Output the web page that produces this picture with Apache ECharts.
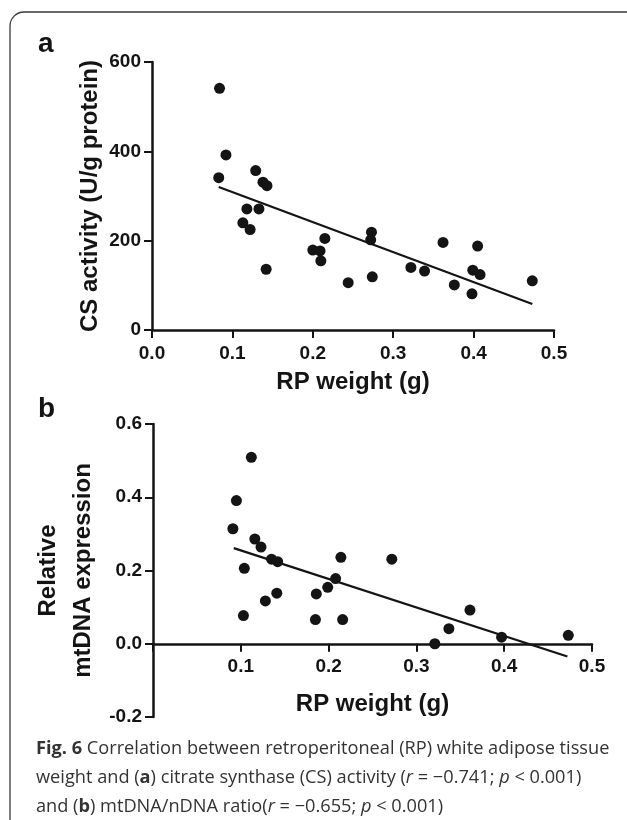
<!DOCTYPE html>
<html>
<head>
<meta charset="utf-8">
<script src="https://cdn.jsdelivr.net/npm/echarts@6/dist/echarts.min.js"></script>
<style>
  html, body { margin: 0; padding: 0; background: #fff; }
  #chart { width: 627px; height: 820px; }
</style>
</head>
<body>
<div id="chart"></div>
<script>
// panel a: RP weight (g) vs CS activity (U/g protein)
const weightA = [0.084, 0.092, 0.083, 0.129, 0.138, 0.143, 0.118, 0.133, 0.113, 0.122,
    0.142, 0.200, 0.209, 0.215, 0.210, 0.244, 0.273, 0.272, 0.274, 0.322,
    0.339, 0.362, 0.376, 0.399, 0.405, 0.408, 0.398, 0.473];
const csActivity = [541, 392, 341, 357, 331, 323, 271, 271, 240, 225,
    136, 179, 177, 205, 155, 106, 219, 202, 119, 140,
    132, 196, 101, 134, 188, 124, 81, 110];
const fitA = [[0.083, 320], [0.473, 58]];

// panel b: RP weight (g) vs relative mtDNA expression
const weightB = [0.112, 0.095, 0.091, 0.116, 0.123, 0.135, 0.142, 0.104, 0.141, 0.128,
    0.103, 0.186, 0.185, 0.199, 0.208, 0.214, 0.216, 0.272, 0.321, 0.337,
    0.361, 0.397, 0.473];
const mtdna = [0.509, 0.391, 0.314, 0.286, 0.264, 0.231, 0.224, 0.206, 0.138, 0.117,
    0.077, 0.136, 0.066, 0.154, 0.178, 0.236, 0.066, 0.231, 0.000, 0.041,
    0.092, 0.018, 0.023];
const fitB = [[0.092, 0.261], [0.472, -0.035]];

const yRangeB = [-0.2, 0.6];

const FONT = '"Liberation Sans", Arial, Helvetica, sans-serif';
const CAPTION_FONT = '"Open Sans", "Noto Sans", sans-serif';
const INK = '#141414';

const pairs = (xs, ys) => xs.map((x, i) => [x, ys[i]]);
const fmt1 = v => (Math.abs(v) < 1e-9 ? 0 : v).toFixed(1);

function axisBase(labelMargin) {
    return {
        nameMoveOverlap: false,
        axisLine: { show: true, onZero: false, lineStyle: { color: INK, width: 2.5 } },
        axisTick: { show: true, length: 8, lineStyle: { color: INK, width: 2 } },
        axisLabel: { color: INK, fontFamily: FONT, fontWeight: 'bold', fontSize: 19, margin: labelMargin },
        splitLine: { show: false },
        nameTextStyle: { color: INK, fontFamily: FONT, fontWeight: 'bold', fontSize: 24 }
    };
}

const gridB = { left: 153, top: 424, width: 439, height: 293 };
// lift panel b's x axis up to y = 0
const zeroOffsetB = -(0 - yRangeB[0]) / (yRangeB[1] - yRangeB[0]) * gridB.height;

const myChart = echarts.init(document.getElementById('chart'), null, { renderer: 'canvas' });

myChart.setOption({
    backgroundColor: '#fff',
    animation: false,
    grid: [
        { left: 152, top: 62, width: 402, height: 268 },
        gridB
    ],
    xAxis: [
        Object.assign(axisBase(14), {
            gridIndex: 0, type: 'value', min: 0, max: 0.5, interval: 0.1,
            name: 'RP weight (g)', nameLocation: 'middle', nameGap: 40,
            axisLabel: Object.assign(axisBase(14).axisLabel, { formatter: fmt1 })
        }),
        Object.assign(axisBase(14), {
            gridIndex: 1, type: 'value', min: 0, max: 0.5, interval: 0.1,
            offset: zeroOffsetB,
            name: 'RP weight (g)', nameLocation: 'middle', nameGap: 49,
            axisLabel: Object.assign(axisBase(14).axisLabel, {
                formatter: v => (v === 0 ? '' : fmt1(v))
            })
        })
    ],
    yAxis: [
        Object.assign(axisBase(11), {
            gridIndex: 0, type: 'value', min: 0, max: 600, interval: 200,
            name: 'CS activity (U/g protein)', nameLocation: 'middle', nameGap: 50
        }),
        Object.assign(axisBase(11), {
            gridIndex: 1, type: 'value', min: yRangeB[0], max: yRangeB[1], interval: 0.2,
            name: 'Relative\nmtDNA expression', nameLocation: 'middle', nameGap: 52,
            nameTextStyle: Object.assign(axisBase(11).nameTextStyle, { lineHeight: 35 }),
            axisLabel: Object.assign(axisBase(11).axisLabel, { formatter: fmt1 })
        })
    ],
    series: [
        {
            type: 'line', xAxisIndex: 0, yAxisIndex: 0, data: fitA,
            symbol: 'none', lineStyle: { color: INK, width: 2.2 }, z: 3
        },
        {
            type: 'scatter', xAxisIndex: 0, yAxisIndex: 0, data: pairs(weightA, csActivity),
            symbolSize: 11, itemStyle: { color: INK, opacity: 1 }, z: 4
        },
        {
            type: 'line', xAxisIndex: 1, yAxisIndex: 1, data: fitB,
            symbol: 'none', lineStyle: { color: INK, width: 2.2 }, z: 3
        },
        {
            type: 'scatter', xAxisIndex: 1, yAxisIndex: 1, data: pairs(weightB, mtdna),
            symbolSize: 11, itemStyle: { color: INK, opacity: 1 }, z: 4
        }
    ],
    graphic: [
        {
            type: 'rect', z: 0, silent: true,
            shape: { x: 10, y: 12, width: 720, height: 900, r: 14 },
            style: { fill: 'none', stroke: '#3a3a3a', lineWidth: 1.3 }
        },
        {
            type: 'text', left: 38, top: 30,
            style: { text: 'a', fill: INK, font: 'bold 28px ' + FONT }
        },
        {
            type: 'text', left: 38, top: 395,
            style: { text: 'b', fill: INK, font: 'bold 28px ' + FONT }
        },
        {
            type: 'text', left: 36, top: 734,
            style: {
                text: '{b|Fig. 6} Correlation between retroperitoneal (RP) white adipose tissue\n' +
                    'weight and ({b|a}) citrate synthase (CS) activity ({i|r} = −0.741; {i|p} < 0.001)\n' +
                    'and ({b|b}) mtDNA/nDNA ratio({i|r} = −0.655; {i|p} < 0.001)',
                fill: '#333',
                fontFamily: CAPTION_FONT,
                fontSize: 18.2,
                lineHeight: 29,
                rich: {
                    b: { fontWeight: 'bold', fontFamily: CAPTION_FONT, fontSize: 18.2, fill: '#333' },
                    i: { fontStyle: 'italic', fontFamily: CAPTION_FONT, fontSize: 18.2, fill: '#333' }
                }
            }
        }
    ]
});

window.addEventListener('resize', function () {
    myChart.resize();
});
</script>
</body>
</html>
